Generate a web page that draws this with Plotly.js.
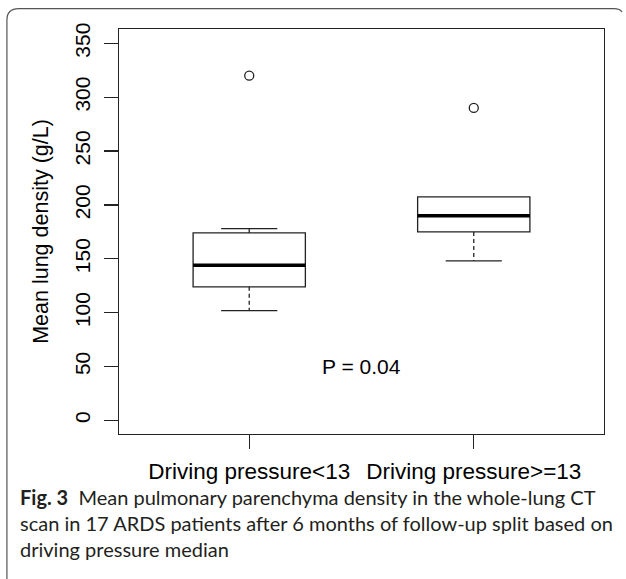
<!DOCTYPE html>
<html>
<head>
<meta charset="utf-8">
<script src="https://cdn.plot.ly/plotly-3.0.1.min.js"></script>
<style>html,body{margin:0;padding:0;background:#fff;}#chart{width:626px;height:579px;}</style>
</head>
<body>
<div id="chart"></div>
<script>
// ---- data ----
const groups = ["Driving pressure<13", "Driving pressure>=13"];
const xPos = [1, 2];
const lowerWhisker = [102, 148];
const q1 = [124, 175];
const median = [144, 190];
const q3 = [174, 207.5];
const upperWhisker = [178, 207.5];
const outliers = [320, 290];
const yTicks = [0, 50, 100, 150, 200, 250, 300, 350];
const pLabel = "P = 0.04";
const pPos = {x: 1.5, y: 50};
const captionBold = "Fig. 3";
const captionLines = [
  "Mean pulmonary parenchyma density in the whole-lung CT",
  "scan in 17 ARDS patients after 6 months of follow-up split based on",
  "driving pressure median"
];

// ---- geometry ----
const W = 626, H = 579;
const L = 119.3, R = 22, T = 29, B = 144.7;
const pw = W - L - R, ph = H - T - B;
const px2x = p => (p - L) / pw;
const py2y = p => (H - B - p) / ph;

const boxW = 0.5, capW = 0.25;

// whiskers (dashed) and caps built from the arrays
const wx = [], wy = [], cx = [], cy = [], mx = [], my = [];
xPos.forEach((x, i) => {
  if (lowerWhisker[i] < q1[i]) { wx.push(x, x, null); wy.push(q1[i], lowerWhisker[i], null); }
  if (upperWhisker[i] > q3[i]) { wx.push(x, x, null); wy.push(q3[i], upperWhisker[i], null); }
  cx.push(x - capW / 2, x + capW / 2, null); cy.push(lowerWhisker[i], lowerWhisker[i], null);
  if (upperWhisker[i] > q3[i]) { cx.push(x - capW / 2, x + capW / 2, null); cy.push(upperWhisker[i], upperWhisker[i], null); }
  mx.push(x - boxW / 2, x + boxW / 2, null); my.push(median[i], median[i], null);
});

const traces = [
  {type: 'scatter', mode: 'lines', x: wx, y: wy, line: {color: '#222', width: 1.3, dash: '4px,3px'}, hoverinfo: 'skip'},
  {type: 'scatter', mode: 'lines', x: cx, y: cy, line: {color: '#222', width: 1.3}, hoverinfo: 'skip'},
  {type: 'box', x: xPos, q1: q1, median: median, q3: q3, lowerfence: q1, upperfence: q3,
   width: boxW, line: {color: '#222', width: 1.3}, fillcolor: 'rgba(255,255,255,1)', boxpoints: false, hoverinfo: 'skip'},
  {type: 'scatter', mode: 'lines', x: mx, y: my, line: {color: '#000', width: 3.6}, hoverinfo: 'skip'},
  {type: 'scatter', mode: 'markers', x: xPos, y: outliers,
   marker: {symbol: 'circle-open', size: 9, color: '#222', line: {width: 1.3, color: '#222'}}, hoverinfo: 'skip'}
];

// frame around figure (left + top with rounded corners)
const framePath = `M ${px2x(7.3)},${py2y(582)} L ${px2x(7.3)},${py2y(20)} Q ${px2x(7.3)},${py2y(8.7)} ${px2x(19)},${py2y(8.7)} L ${px2x(614)},${py2y(8.7)} Q ${px2x(620)},${py2y(8.7)} ${px2x(622)},${py2y(12)}`;

const capFont = {family: 'Lato, "Open Sans", sans-serif', size: 20, color: '#231f20'};
const capY = [497, 523, 549];
const annotations = [
  {xref: 'x', yref: 'y', x: pPos.x, y: pPos.y, text: pLabel, showarrow: false,
   font: {family: '"Liberation Sans", Arial, sans-serif', size: 21, color: '#000'}},
  {xref: 'paper', yref: 'paper', x: px2x(18), y: py2y(capY[0]), xanchor: 'left', yanchor: 'middle',
   text: '<b>' + captionBold + '</b>  ' + captionLines[0], showarrow: false, font: capFont},
  {xref: 'paper', yref: 'paper', x: px2x(18), y: py2y(capY[1]), xanchor: 'left', yanchor: 'middle',
   text: captionLines[1], showarrow: false, font: capFont},
  {xref: 'paper', yref: 'paper', x: px2x(18), y: py2y(capY[2]), xanchor: 'left', yanchor: 'middle',
   text: captionLines[2], showarrow: false, font: capFont}
];

const layout = {
  width: W, height: H,
  margin: {l: L, r: R, t: T, b: B, pad: 0},
  paper_bgcolor: '#fff', plot_bgcolor: '#fff',
  showlegend: false,
  font: {family: '"Liberation Sans", Arial, sans-serif', size: 21, color: '#000'},
  xaxis: {
    range: [0.42, 2.58], tickmode: 'array', tickvals: xPos, ticktext: groups,
    showgrid: false, zeroline: false, showline: true, mirror: true, linecolor: '#222', linewidth: 1.3,
    ticks: 'outside', ticklen: 13.5, tickwidth: 1.3, tickcolor: '#222',
    tickfont: {size: 22.5}, ticklabelstandoff: 3, fixedrange: true
  },
  yaxis: {
    range: [-12.6, 363.3], tickmode: 'array', tickvals: yTicks, ticktext: yTicks.map(String),
    tickangle: -90,
    showgrid: false, zeroline: false, showline: true, mirror: true, linecolor: '#222', linewidth: 1.3,
    ticks: 'outside', ticklen: 13.5, tickwidth: 1.3, tickcolor: '#222',
    tickfont: {size: 21}, ticklabelstandoff: 6,
    title: {text: 'Mean lung density (g/L)', font: {size: 21.5}, standoff: 16},
    fixedrange: true
  },
  shapes: [{type: 'path', xref: 'paper', yref: 'paper', path: framePath, line: {color: '#555', width: 1.2}}],
  annotations: annotations
};

Plotly.newPlot('chart', traces, layout, {displayModeBar: false, staticPlot: true});
</script>
</body>
</html>
